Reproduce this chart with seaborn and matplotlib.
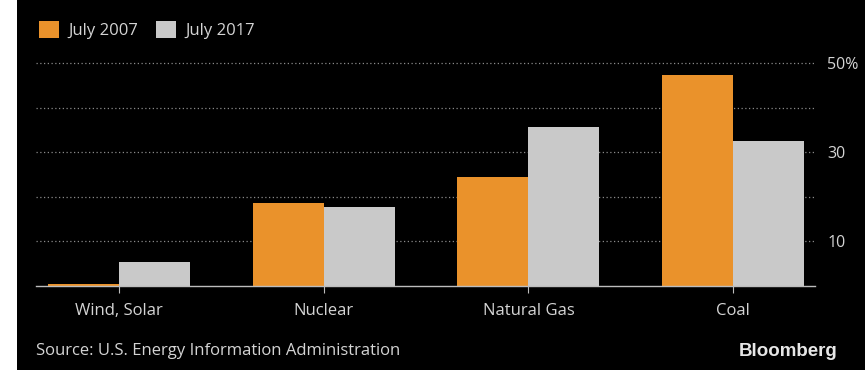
import matplotlib
matplotlib.use("Agg")
import matplotlib.pyplot as plt
from matplotlib.patches import Rectangle, Patch
import seaborn as sns
import pandas as pd

# Share of U.S. electricity generation by source (%)
sources = ["Wind, Solar", "Nuclear", "Natural Gas", "Coal"]
share_2007 = [0.4, 18.5, 24.5, 47.3]
share_2017 = [5.4, 17.8, 35.6, 32.4]
periods = ["July 2007", "July 2017"]
ytick_values = [10, 20, 30, 40, 50]
ytick_labels = ["10", "", "30", "", "50%"]

ORANGE = "#EA922B"
GREY = "#C9C9C9"
TEXT = "#D4D4D4"
BG = "#000000"

df = pd.DataFrame({
    "source": sources * 2,
    "share": share_2007 + share_2017,
    "period": [periods[0]] * len(sources) + [periods[1]] * len(sources),
})

sns.set_theme(style="dark")
plt.rcParams["font.family"] = ["Open Sans", "DejaVu Sans"]

fig = plt.figure(figsize=(8.65, 3.7), dpi=100)
fig.patch.set_facecolor("white")
fig.patches.append(Rectangle((17 / 865, 0), 1, 1, transform=fig.transFigure,
                             facecolor=BG, edgecolor="none", zorder=-10))

ax = fig.add_axes([36 / 865, 84 / 370, (815 - 36) / 865, (286 - 54) / 370])
ax.set_facecolor(BG)

sns.barplot(data=df, x="source", y="share", hue="period", order=sources,
            hue_order=periods, palette=[ORANGE, GREY], saturation=1,
            width=0.694, gap=0, legend=False, ax=ax, zorder=3, linewidth=0)

ax.set_xlim(-0.405, 3.4)
ax.set_ylim(0, 52)
ax.set_xlabel("")
ax.set_ylabel("")

# dotted horizontal gridlines
ax.set_yticks(ytick_values)
ax.set_yticklabels(ytick_labels)
ax.yaxis.tick_right()
ax.yaxis.grid(True, linestyle=(0, (1, 2)), color="#8a8a8a", linewidth=0.9)
ax.xaxis.grid(False)
ax.set_axisbelow(True)
ax.tick_params(axis="y", length=0, pad=9, labelsize=11.5, colors=TEXT)
ax.tick_params(axis="x", length=5, width=0.8, color="#bdbdbd", pad=7,
               labelsize=12, labelcolor=TEXT, bottom=True)

for side in ["top", "left", "right"]:
    ax.spines[side].set_visible(False)
ax.spines["bottom"].set_color("#bdbdbd")
ax.spines["bottom"].set_linewidth(1.0)
ax.spines["bottom"].set_zorder(4)

handles = [Patch(facecolor=ORANGE, edgecolor="none"),
           Patch(facecolor=GREY, edgecolor="none")]
leg = fig.legend(handles, periods, loc="upper left", ncol=2,
                 bbox_to_anchor=(24 / 865, 1 - 6 / 370), frameon=False,
                 handlelength=1.2, handleheight=1.2, handletextpad=0.55,
                 columnspacing=1.1, fontsize=12)
for t in leg.get_texts():
    t.set_color(TEXT)

fig.text(36 / 865, 1 - 351 / 370, "Source: U.S. Energy Information Administration",
         color=TEXT, fontsize=12, va="center", ha="left")
fig.text(838 / 865, 1 - 352 / 370, "Bloomberg", color="#E6E6E6", fontsize=13.5,
         fontweight="bold", va="center", ha="right",
         family=["Liberation Sans", "DejaVu Sans"])

fig.savefig("out.png", dpi=100, facecolor=fig.get_facecolor())
